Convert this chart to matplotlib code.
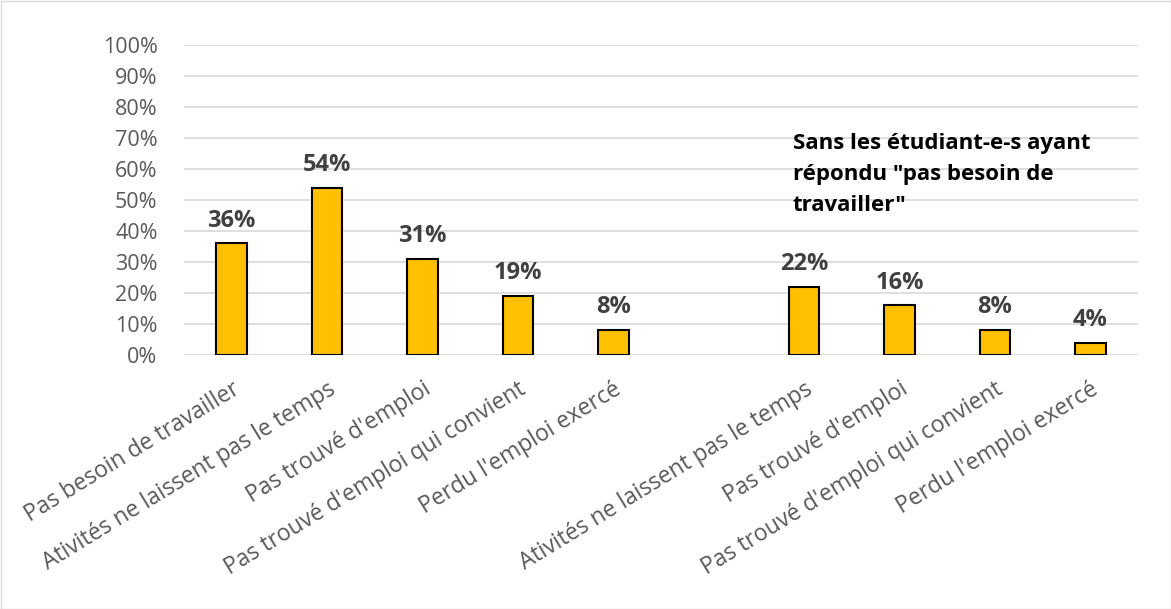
import matplotlib.pyplot as plt
from matplotlib.ticker import FuncFormatter
from matplotlib.patches import Rectangle
import numpy as np

plt.rcParams['font.family'] = ['Open Sans', 'DejaVu Sans']

# categories: a blank slot separates the two groups
categories = ["Pas besoin de travailler",
              "Ativités ne laissent pas le temps",
              "Pas trouvé d'emploi",
              "Pas trouvé d'emploi qui convient",
              "Perdu l'emploi exercé",
              "",
              "Ativités ne laissent pas le temps",
              "Pas trouvé d'emploi",
              "Pas trouvé d'emploi qui convient",
              "Perdu l'emploi exercé"]
values = [36, 54, 31, 19, 8, np.nan, 22, 16, 8, 4]
note = "Sans les étudiant-e-s ayant\nrépondu \"pas besoin de\ntravailler\""

fig = plt.figure(figsize=(11.71, 6.09), dpi=100)
ax = fig.add_axes([184 / 1171, 1 - 355 / 609, (1138 - 184) / 1171, 310 / 609])

x = np.arange(len(categories))
ax.bar(x, values, width=0.32, color='#FFC000', edgecolor='black', linewidth=1.5, zorder=3)

for xi, v in zip(x, values):
    if np.isnan(v):
        continue
    ax.text(xi, v + 3.5, f"{v:.0f}%", ha='center', va='bottom',
            fontsize=17, fontweight='bold', color='#404040')

ax.set_xlim(-0.5, len(categories) - 0.5)
ax.set_ylim(0, 100)
ax.set_yticks(np.arange(0, 101, 10))
ax.yaxis.set_major_formatter(FuncFormatter(lambda v, p: f"{v:.0f}%"))
ax.grid(axis='y', color='#D9D9D9', linewidth=1.2, zorder=0)
for s in ax.spines.values():
    s.set_visible(False)
ax.tick_params(axis='y', length=0, labelsize=15.5, labelcolor='#595959', pad=19)
ax.tick_params(axis='x', length=0, labelsize=16.5, labelcolor='#595959', pad=16)
ax.set_xticks(x)
ax.set_xticklabels(categories, rotation=31.5, ha='right', rotation_mode='anchor')

ax.text(5.88, 71.5, note, fontsize=16, fontweight='bold', color='black',
        va='top', ha='left', linespacing=1.6)

# chart border
fig.patches.append(Rectangle((0.5 / 1171, 0.5 / 609), 1 - 1 / 1171, 1 - 1 / 609,
                             transform=fig.transFigure, fill=False,
                             edgecolor='#D9D9D9', linewidth=1))

fig.savefig('out.png', dpi=100)
